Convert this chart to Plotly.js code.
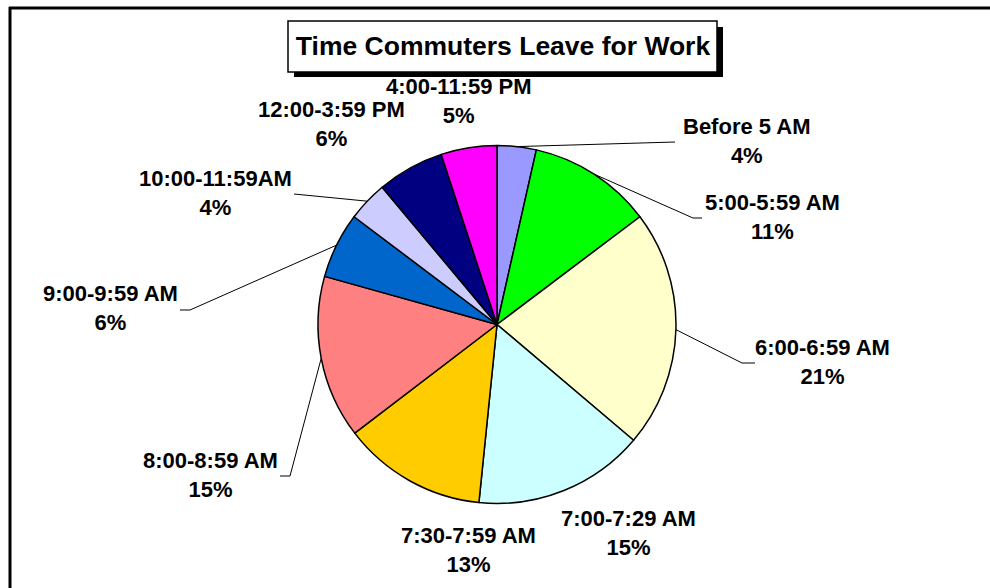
<!DOCTYPE html>
<html>
<head>
<meta charset="utf-8">
<script src="https://cdn.plot.ly/plotly-3.0.1.min.js"></script>
<style>
  html, body { margin: 0; padding: 0; background: #fff; }
  #myDiv { width: 990px; height: 588px; }
</style>
</head>
<body>
<div id="myDiv"></div>
<script>
// slices, clockwise from 12 o'clock (share of commuters)
var categories = ['Before 5 AM', '5:00-5:59 AM', '6:00-6:59 AM', '7:00-7:29 AM', '7:30-7:59 AM',
                  '8:00-8:59 AM', '9:00-9:59 AM', '10:00-11:59AM', '12:00-3:59 PM', '4:00-11:59 PM'];
var shares = [3.5, 11.1, 21.3, 15.3, 12.9, 14.6, 5.9, 3.6, 6.0, 5.0];
var sliceColors = ['#9999FF', '#00FF00', '#FFFFCC', '#CCFFFF', '#FFCC00',
                   '#FF8080', '#0066CC', '#CCCCFF', '#000080', '#FF00FF'];

// page geometry (pixels)
var W = 990, H = 588;
var cx = 497, cy = 324.5, R = 179;
function px(x) { return x / W; }
function py(y) { return 1 - y / H; }

// label centres and leader line bends (null = no leader line)
var labelPos = [[747, 141], [772, 217], [822, 362], [628, 533], [468, 550],
                [210, 475], [110, 308], [215, 193], [331, 124], [459, 101]];
var leaderBend = [
  [[675, 142]],
  [[693, 218], [702, 218]],
  [[742, 363], [755, 363]],
  null, null,
  [[290, 476], [280, 476]],
  [[190, 310], [180, 310]],
  [[294, 194]],
  null, null
];

var total = shares.reduce(function (a, b) { return a + b; }, 0);

var trace = {
  type: 'pie',
  values: shares,
  labels: categories,
  sort: false,
  direction: 'clockwise',
  rotation: 0,
  textinfo: 'none',
  hoverinfo: 'label+percent',
  marker: { colors: sliceColors, line: { color: '#000', width: 1.5 } },
  domain: { x: [px(cx - R), px(cx + R)], y: [py(cy + R), py(cy - R)] },
  showlegend: false
};

var annotations = [];
var shapes = [];
var cum = 0;
categories.forEach(function (name, i) {
  var mid = (cum + shares[i] / 2) / total;
  cum += shares[i];
  var pct = Math.round(shares[i] / total * 100);
  annotations.push({
    xref: 'paper', yref: 'paper',
    x: px(labelPos[i][0]), y: py(labelPos[i][1]),
    xanchor: 'center', yanchor: 'middle',
    text: '<b>' + name + '<br>' + pct + '%</b>',
    showarrow: false,
    font: { family: 'Liberation Sans, Arial, sans-serif', size: 22, color: '#000' }
  });
  if (leaderBend[i]) {
    var ang = mid * 2 * Math.PI;
    var ax = cx + R * Math.sin(ang), ay = cy - R * Math.cos(ang);
    var path = 'M' + px(ax) + ',' + py(ay);
    leaderBend[i].forEach(function (p) { path += ' L' + px(p[0]) + ',' + py(p[1]); });
    shapes.push({ type: 'path', xref: 'paper', yref: 'paper', path: path,
                  line: { color: '#000', width: 1 } });
  }
});

// outer frame (top and left edges)
shapes.push({ type: 'line', xref: 'paper', yref: 'paper', x0: px(9), x1: px(990), y0: py(8), y1: py(8),
              line: { color: '#000', width: 3 } });
shapes.push({ type: 'line', xref: 'paper', yref: 'paper', x0: px(10), x1: px(10), y0: py(7), y1: py(588),
              line: { color: '#000', width: 3 } });
// title box with drop shadow
shapes.push({ type: 'rect', xref: 'paper', yref: 'paper', x0: px(294), x1: px(723), y0: py(77), y1: py(27),
              fillcolor: '#000', line: { width: 0 } });
shapes.push({ type: 'rect', xref: 'paper', yref: 'paper', x0: px(288), x1: px(717), y0: py(72), y1: py(21),
              fillcolor: '#fff', line: { color: '#000', width: 1.5 } });

var layout = {
  width: W, height: H,
  margin: { l: 0, r: 0, t: 0, b: 0 },
  paper_bgcolor: '#fff',
  title: {
    text: '<b>Time Commuters Leave for Work</b>',
    x: px(503), xanchor: 'center',
    y: py(46), yanchor: 'middle', yref: 'container',
    font: { family: 'Liberation Sans, Arial, sans-serif', size: 26.5, color: '#000' }
  },
  shapes: shapes,
  annotations: annotations
};

Plotly.newPlot('myDiv', [trace], layout, { displayModeBar: false });
</script>
</body>
</html>
